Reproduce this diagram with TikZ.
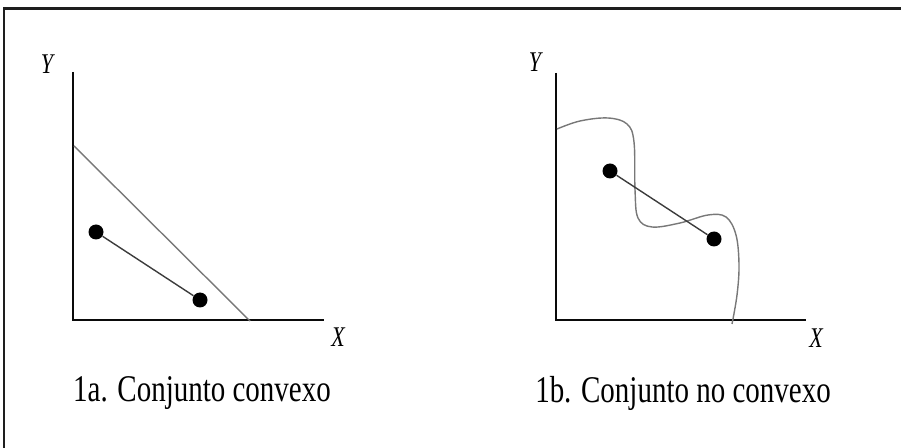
\documentclass[tikz,border=0pt]{standalone}
\usepackage{fontspec}
\setmainfont{Liberation Serif}
\usepackage{xcolor}
\usetikzlibrary{calc}
\definecolor{framegray}{RGB}{30,30,30}
\definecolor{axisblack}{RGB}{10,10,10}
\definecolor{bordergray}{RGB}{120,120,120}
\definecolor{chordgray}{RGB}{60,60,60}

\tikzset{
  dot/.style={circle, fill=black, inner sep=0pt, minimum size=0.3cm},
  axislabel/.style={font=\fontsize{12.5}{14}\selectfont\itshape, yscale=1.3},
  caption/.style={font=\fontsize{16.5}{19}\selectfont, yscale=1.3}
}

\begin{document}
\begin{tikzpicture}[x=0.02cm, y=-0.02cm]
\useasboundingbox (0,0) rectangle (901,448);

% 1. FRAME
\draw[framegray, line width=1.7pt] (4,448) -- (4,9) -- (901,9);

% 2. PANEL 1a (convex set)
% Axes
\coordinate (oa) at (73,320);
\coordinate (ya) at (73,72);
\coordinate (xa) at (324,320);
\draw[axisblack, line width=1.1pt] (ya) -- (oa) -- (xa);
\node[axislabel] (laby) at (47,64) {Y};
\node[axislabel] (labx) at (338,337) {X};

% Boundary line
\coordinate (ba) at (74,146);
\coordinate (bb) at (250,321);
\draw[bordergray, line width=0.8pt] (ba) -- (bb);

% Points and chord
\node[dot] (pa) at (96,232) {};
\node[dot] (pb) at (200,300) {};
\draw[chordgray, line width=0.8pt] (pa) -- (pb);

\node[caption] (capa) at (202,393) {1a. Conjunto convexo};

% 3. PANEL 1b (non-convex set)
% Axes
\coordinate (ob) at (556,320);
\coordinate (yb) at (556,73);
\coordinate (xb) at (806,320);
\draw[axisblack, line width=1.1pt] (yb) -- (ob) -- (xb);
\node[axislabel] (labyb) at (535,62) {Y};
\node[axislabel] (labxb) at (816,338) {X};

% Wavy boundary
\draw[bordergray, line width=0.8pt] plot[smooth, tension=0.6] coordinates {
  (557,129) (580,121) (608,118) (627,124) (634,142) (635,190)
  (638,218) (652,227) (680,223) (708,215) (726,217) (736,235)
  (739,265) (737,295) (732,324)};

% Points and chord
\node[dot] (pc) at (610,171) {};
\node[dot] (pd) at (714,239) {};
\draw[chordgray, line width=0.8pt] (pc) -- (pd);

\node[caption] (capb) at (683,393) {1b. Conjunto no convexo};

\end{tikzpicture}
\end{document}
